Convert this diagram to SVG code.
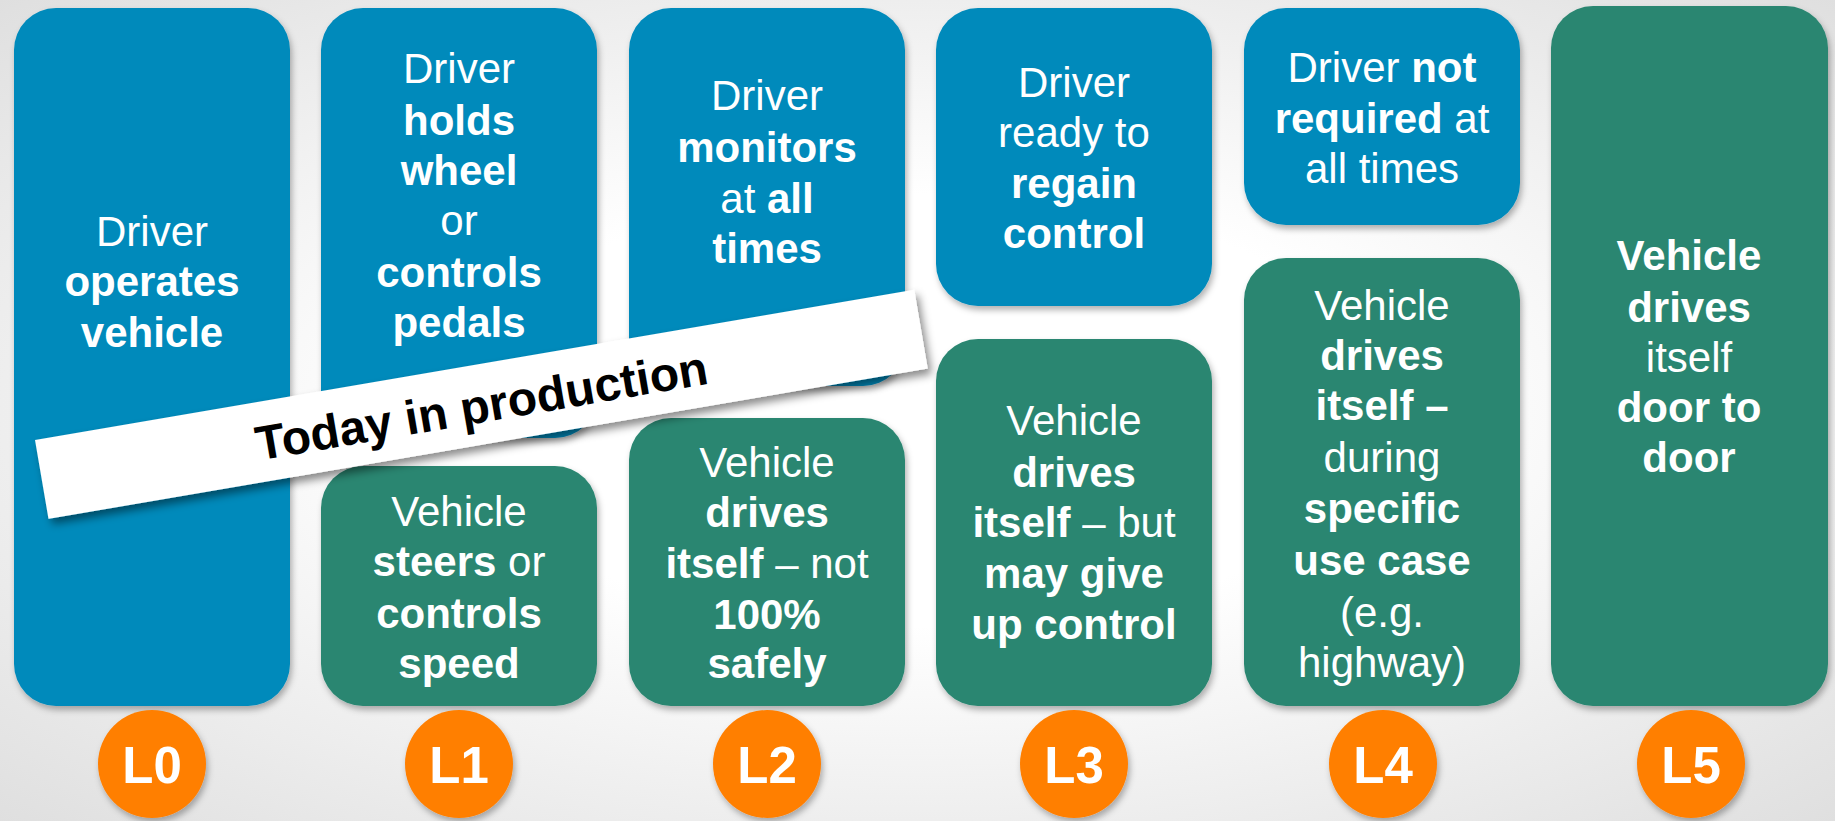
<svg xmlns="http://www.w3.org/2000/svg" width="1835" height="821" viewBox="0 0 1835 821">
<defs>
<radialGradient id="bg" cx="50%" cy="50%" r="75%">
<stop offset="0.35" stop-color="#ffffff"/>
<stop offset="1" stop-color="#dcdcdc"/>
</radialGradient>
<filter id="sh" x="-10%" y="-10%" width="120%" height="125%">
<feDropShadow dx="2" dy="4" stdDeviation="3" flood-color="#000" flood-opacity="0.3"/>
</filter>
<filter id="bsh" x="-5%" y="-20%" width="110%" height="150%">
<feDropShadow dx="3" dy="6" stdDeviation="4" flood-color="#000" flood-opacity="0.45"/>
</filter>
</defs>
<style>
.blue{fill:#068abb;filter:url(#sh)}
.green{fill:#2a8671;filter:url(#sh)}
.t{font-family:"Liberation Sans",Arial,sans-serif;font-size:42px;fill:#fff;text-anchor:middle}
.b{font-weight:bold}
.circ{fill:#ff7f00;filter:url(#sh)}
.lv{font-family:"Liberation Sans",Arial,sans-serif;font-size:51px;font-weight:bold;fill:#fff;text-anchor:middle}
.ban{font-family:"Liberation Sans",Arial,sans-serif;font-size:48px;font-weight:bold;fill:#000;text-anchor:middle}
</style>
<rect x="0" y="0" width="1835" height="821" fill="url(#bg)"/>

<g id="L0">
<rect class="blue" x="14" y="8" width="276" height="698" rx="42"/>
<text class="t" x="152" y="246">Driver</text>
<text class="t b" x="152" y="296">operates</text>
<text class="t b" x="152" y="347">vehicle</text>
<circle class="circ" cx="152" cy="764" r="54"/>
<text class="lv" x="152" y="783">L0</text>
</g>

<g id="L1">
<rect class="blue" x="321" y="8" width="276" height="430" rx="42"/>
<text class="t" x="459" y="83">Driver</text>
<text class="t b" x="459" y="135">holds</text>
<text class="t b" x="459" y="185">wheel</text>
<text class="t" x="459" y="235">or</text>
<text class="t b" x="459" y="287">controls</text>
<text class="t b" x="459" y="337">pedals</text>
<rect class="green" x="321" y="466" width="276" height="240" rx="42"/>
<text class="t" x="459" y="526">Vehicle</text>
<text class="t" x="459" y="576"><tspan class="b">steers</tspan> or</text>
<text class="t b" x="459" y="628">controls</text>
<text class="t b" x="459" y="678">speed</text>
<circle class="circ" cx="459" cy="764" r="54"/>
<text class="lv" x="459" y="783">L1</text>
</g>

<g id="L2">
<rect class="blue" x="629" y="8" width="276" height="378" rx="42"/>
<text class="t" x="767" y="110">Driver</text>
<text class="t b" x="767" y="162">monitors</text>
<text class="t" x="767" y="213">at <tspan class="b">all</tspan></text>
<text class="t b" x="767" y="263">times</text>
<rect class="green" x="629" y="418" width="276" height="288" rx="42"/>
<text class="t" x="767" y="477">Vehicle</text>
<text class="t b" x="767" y="527">drives</text>
<text class="t" x="767" y="578"><tspan class="b">itself</tspan> – not</text>
<text class="t b" x="767" y="629">100%</text>
<text class="t b" x="767" y="678">safely</text>
<circle class="circ" cx="767" cy="764" r="54"/>
<text class="lv" x="767" y="783">L2</text>
</g>

<g id="L3">
<rect class="blue" x="936" y="8" width="276" height="298" rx="42"/>
<text class="t" x="1074" y="97">Driver</text>
<text class="t" x="1074" y="147">ready to</text>
<text class="t b" x="1074" y="198">regain</text>
<text class="t b" x="1074" y="248">control</text>
<rect class="green" x="936" y="339" width="276" height="367" rx="42"/>
<text class="t" x="1074" y="435">Vehicle</text>
<text class="t b" x="1074" y="487">drives</text>
<text class="t" x="1074" y="537"><tspan class="b">itself</tspan> – but</text>
<text class="t b" x="1074" y="588">may give</text>
<text class="t b" x="1074" y="639">up control</text>
<circle class="circ" cx="1074" cy="764" r="54"/>
<text class="lv" x="1074" y="783">L3</text>
</g>

<g id="L4">
<rect class="blue" x="1244" y="8" width="276" height="217" rx="42"/>
<text class="t" x="1382" y="82">Driver <tspan class="b">not</tspan></text>
<text class="t" x="1382" y="133"><tspan class="b">required</tspan> at</text>
<text class="t" x="1382" y="183">all times</text>
<rect class="green" x="1244" y="258" width="276" height="448" rx="42"/>
<text class="t" x="1382" y="320">Vehicle</text>
<text class="t b" x="1382" y="370">drives</text>
<text class="t b" x="1382" y="420">itself –</text>
<text class="t" x="1382" y="472">during</text>
<text class="t b" x="1382" y="523">specific</text>
<text class="t b" x="1382" y="575">use case</text>
<text class="t" x="1382" y="627">(e.g.</text>
<text class="t" x="1382" y="677">highway)</text>
<circle class="circ" cx="1383" cy="764" r="54"/>
<text class="lv" x="1383" y="783">L4</text>
</g>

<g id="L5">
<rect class="green" x="1551" y="6" width="277" height="700" rx="42"/>
<text class="t b" x="1689" y="270">Vehicle</text>
<text class="t b" x="1689" y="322">drives</text>
<text class="t" x="1689" y="372">itself</text>
<text class="t b" x="1689" y="422">door to</text>
<text class="t b" x="1689" y="472">door</text>
<circle class="circ" cx="1691" cy="764" r="54"/>
<text class="lv" x="1691" y="783">L5</text>
</g>

<g id="banner" transform="translate(35,440) rotate(-9.7)">
<rect x="0" y="0" width="892" height="80" fill="#fff" filter="url(#bsh)"/>
<text class="ban" x="446" y="58">Today in production</text>
</g>

<g id="connectors"></g>
</svg>
